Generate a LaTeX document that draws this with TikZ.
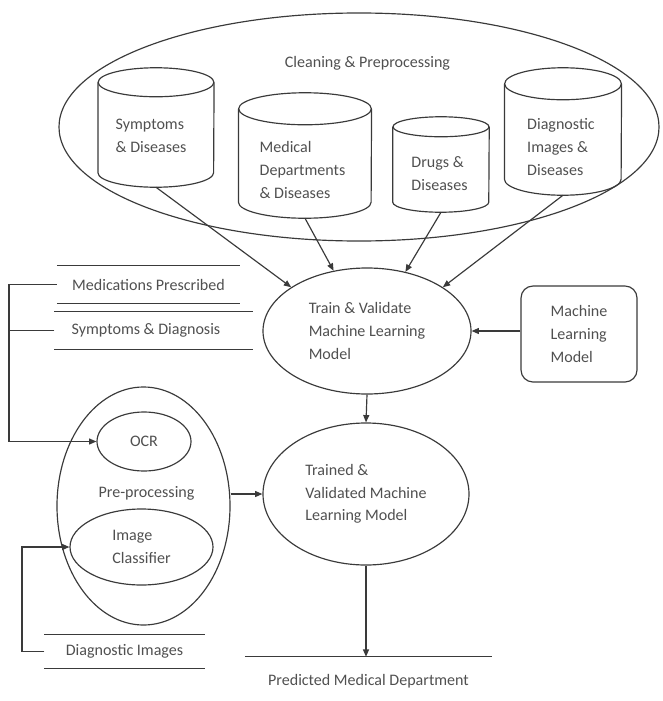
\documentclass[tikz,border=0pt]{standalone}
\usepackage{fontspec}
\setmainfont{Carlito}
\usetikzlibrary{positioning, arrows.meta, shapes.geometric}
\definecolor{ink}{HTML}{3A3A3A}
\definecolor{txt}{HTML}{505050}
\tikzset{
every node/.style = {font = \fontsize{13.7}{19.3}\selectfont, text = txt},
database/.style = {rectangle, inner sep = 0pt},
dbtext/.style = {align = left, inner sep = 0pt},
process/.style = {ellipse, draw = ink, line width = 1pt, inner sep = 0pt, align = left},
modelbox/.style = {rectangle, rounded corners = 3.6mm, draw = ink, line width = 1pt,
   align = left, inner sep = 0pt},
record/.style = {rectangle, inner sep = 0pt, minimum height = 1.11cm},
sepline/.style = {draw = ink, line width = 1pt},
flow/.style = {-{Triangle[length = 2.2mm, width = 1.8mm]}, ink, line width = 1pt}
}
% outline of a database cylinder: node, x radius, y radius of the ends
\newcommand{\dbshape}[3]{%
  \draw [sepline] ([yshift = -#3]#1.north west) -- ([yshift = #3]#1.south west)
     arc [start angle = 180, end angle = 360, x radius = #2, y radius = #3]
     -- ([yshift = -#3]#1.north east);
  \draw [sepline] ([yshift = -#3]#1.north) ellipse [x radius = #2, y radius = #3];
}

\begin{document}
\begin{tikzpicture}[x = .03cm, y = -.03cm]
\useasboundingbox (0,0) rectangle (662,701);

%%%% Cleaning & Preprocessing
\node [process, minimum width = 18cm, minimum height = 6.84cm] (clean) at (359,127) {};
\node (cleanlbl) at (367.5,63) {Cleaning \& Preprocessing};

%% Databases
\node [database, minimum width = 3.47cm, minimum height = 3.57cm] (db1) at (156,127.5) {};
\node [database, minimum width = 3.98cm, minimum height = 3.75cm] (db2) at (305,155.5) {};
\node [database, minimum width = 2.88cm, minimum height = 2.85cm] (db3) at (441,164.5) {};
\node [database, minimum width = 3.5cm, minimum height = 3.81cm] (db4) at (563,131.5) {};

\dbshape{db1}{1.735cm}{.435cm}
\dbshape{db2}{1.99cm}{.48cm}
\dbshape{db3}{1.44cm}{.3cm}
\dbshape{db4}{1.75cm}{.48cm}

\node [dbtext] (db1t) at (151,136) {Symptoms\\\& Diseases};
\node [dbtext] (db2t) at (302.5,170) {Medical\\Departments\\\& Diseases};
\node [dbtext] (db3t) at (439.5,173.5) {Drugs \&\\Diseases};
\node [dbtext] (db4t) at (561,147) {Diagnostic\\Images \&\\Diseases};

%%%% Training
\node [process, minimum width = 6.24cm, minimum height = 3.78cm] (train) at (367,331)
   {Train \& Validate\\Machine Learning\\Model};
\node [modelbox, minimum width = 3.48cm, minimum height = 2.88cm] (mlm) at (579,334)
   {Machine\\Learning\\Model};

\draw [flow] (db1.south) -- (train.150);
\draw [flow] (db2.south) -- (train.119);
\draw [flow] (db3.south) -- (train.57);
\draw [flow] (db4.south) -- (train.30);
\draw [flow] (mlm.west |- train.east) -- (train.east);

%%%% Patient records
\node [record, minimum width = 5.49cm] (med) at (148.5,284.5) {Medications Prescribed};
\node [record, minimum width = 5.49cm] (sd) at (146,330.5) {Symptoms \& Diagnosis};
\node [record, minimum width = 4.8cm, minimum height = .99cm] (diag) at (124.5,651.5)
   {Diagnostic Images};

\draw [sepline] (med.north west) -- (med.north east);
\draw [sepline] (med.south west) -- (med.south east);
\draw [sepline] (sd.north west) -- ([xshift = .465cm]sd.north east);
\draw [sepline] (sd.south west) -- ([xshift = .465cm]sd.south east);
\draw [sepline] (diag.north west) -- (diag.north east);
\draw [sepline] (diag.south west) -- (diag.south east);

%% Pre-processing
\node [process, minimum width = 5.19cm, minimum height = 7.14cm] (pre) at (143.5,506) {};
\node (pretext) at (146.5,493) {Pre-processing};
\node [process, minimum width = 2.82cm, minimum height = 1.77cm] (ocr) at (144,441.5) {OCR};
\node [process, minimum width = 4.29cm, minimum height = 2.28cm] (ic) at (141.5,547)
   {Image\\Classifier};

\coordinate (b1) at (9,0);
\coordinate (b2) at (22,0);
\draw [flow] (med.west) -| (b1 |- ocr.west) -- (ocr.west);
\draw [sepline] (sd.west) -- (b1 |- sd.west);
\draw [flow] (diag.west) -| (b2 |- ic.west) -- (ic.west);

%%%% Prediction
\node [process, minimum width = 6.18cm, minimum height = 4.26cm] (trained) at (366,494)
   {Trained \&\\Validated Machine\\Learning Model};
\node [record, minimum width = 7.41cm, minimum height = 1.44cm] (pmd) at (368.5,681)
   {Predicted Medical Department};
\draw [sepline] (pmd.north west) -- (pmd.north east);

\draw [flow] (pre.east |- trained.west) -- (trained.west);
\draw [flow] (train.south) -- (trained.north);
\draw [flow] (trained.south) -- (trained.south |- pmd.north);

\end{tikzpicture}
\end{document}
